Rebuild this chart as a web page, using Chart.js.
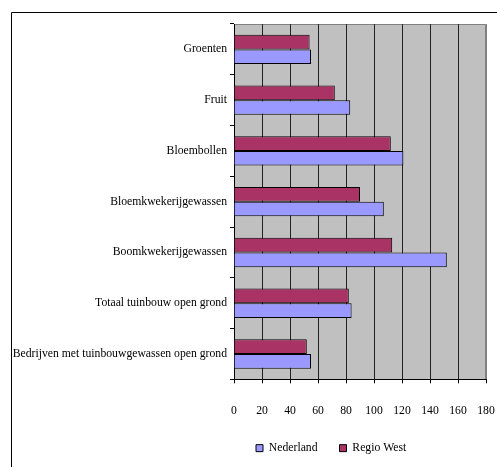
<!DOCTYPE html>
<html>
<head>
<meta charset="utf-8">
<script src="https://cdn.jsdelivr.net/npm/chart.js@4"></script>
<style>
  html, body { margin: 0; padding: 0; background: #fff; }
  #wrap { width: 497px; height: 467px; }
</style>
</head>
<body>
<div id="wrap"><canvas id="chart" width="497" height="467"></canvas></div>
<script>
var categories = [
    'Groenten',
    'Fruit',
    'Bloembollen',
    'Bloemkwekerijgewassen',
    'Boomkwekerijgewassen',
    'Totaal tuinbouw open grond',
    'Bedrijven met tuinbouwgewassen open grond'
];
var nederland = [55, 83, 121, 107, 152, 84, 55];
var regioWest = [54, 72, 112, 90, 113, 82, 52];
var xTicks = [0, 20, 40, 60, 80, 100, 120, 140, 160, 180];

var seriesColors = { Nederland: '#9999ff', RegioWest: '#aa3366' };

// gray plot area plus the outer frame lines
var frame = {
    id: 'frame',
    beforeDraw: function (chart) {
        var ctx = chart.ctx, a = chart.chartArea;
        ctx.save();
        ctx.fillStyle = '#c0c0c0';
        ctx.fillRect(a.left, a.top, a.right - a.left, a.bottom - a.top);
        ctx.strokeStyle = '#808080';
        ctx.lineWidth = 1;
        ctx.beginPath();
        ctx.moveTo(a.left, a.top + 0.5);
        ctx.lineTo(a.right - 0.5, a.top + 0.5);
        ctx.lineTo(a.right - 0.5, a.bottom);
        ctx.stroke();
        ctx.strokeStyle = '#000';
        ctx.beginPath();
        ctx.moveTo(11.5, 467);
        ctx.lineTo(11.5, 12.5);
        ctx.lineTo(497, 12.5);
        ctx.stroke();
        ctx.restore();
    }
};

Chart.defaults.font.family = '"Liberation Serif", "Times New Roman", serif';
Chart.defaults.font.size = 11.7;
Chart.defaults.color = '#000';

new Chart(document.getElementById('chart'), {
    type: 'bar',
    data: {
        labels: categories,
        datasets: [{
                label: 'Regio West',
                data: regioWest,
                backgroundColor: seriesColors.RegioWest,
                borderColor: '#000',
                borderWidth: 1
            },
            {
                label: 'Nederland',
                data: nederland,
                backgroundColor: seriesColors.Nederland,
                borderColor: '#000',
                borderWidth: 1
            }
        ]
    },
    options: {
        indexAxis: 'y',
        responsive: false,
        animation: false,
        categoryPercentage: 0.58,
        barPercentage: 1.0,
        layout: { padding: { top: 24, right: 11, bottom: 3, left: 0 } },
        scales: {
            x: {
                min: 0,
                max: 180,
                afterBuildTicks: function (scale) {
                    scale.ticks = xTicks.map(function (v) { return { value: v }; });
                },
                afterFit: function (scale) {
                    scale.height = 41;
                    scale.paddingLeft = 0;
                    scale.paddingRight = 0;
                },
                grid: {
                    color: function (c) { return c.tick && c.tick.value === 180 ? '#808080' : '#222'; },
                    tickColor: '#000',
                    tickLength: 4
                },
                border: { color: '#000' },
                ticks: { padding: 21, maxRotation: 0 }
            },
            y: {
                afterFit: function (scale) { scale.width = 234; },
                grid: {
                    drawOnChartArea: false,
                    tickColor: '#000',
                    tickLength: 4
                },
                border: { color: '#000' },
                ticks: { padding: 3 }
            }
        },
        plugins: {
            legend: {
                position: 'bottom',
                fullSize: false,
                align: 'start',
                reverse: true,
                labels: {
                    boxWidth: 7,
                    boxHeight: 7,
                    padding: 22
                }
            },
            tooltip: { enabled: false }
        }
    },
    plugins: [frame]
});
</script>
</body>
</html>
